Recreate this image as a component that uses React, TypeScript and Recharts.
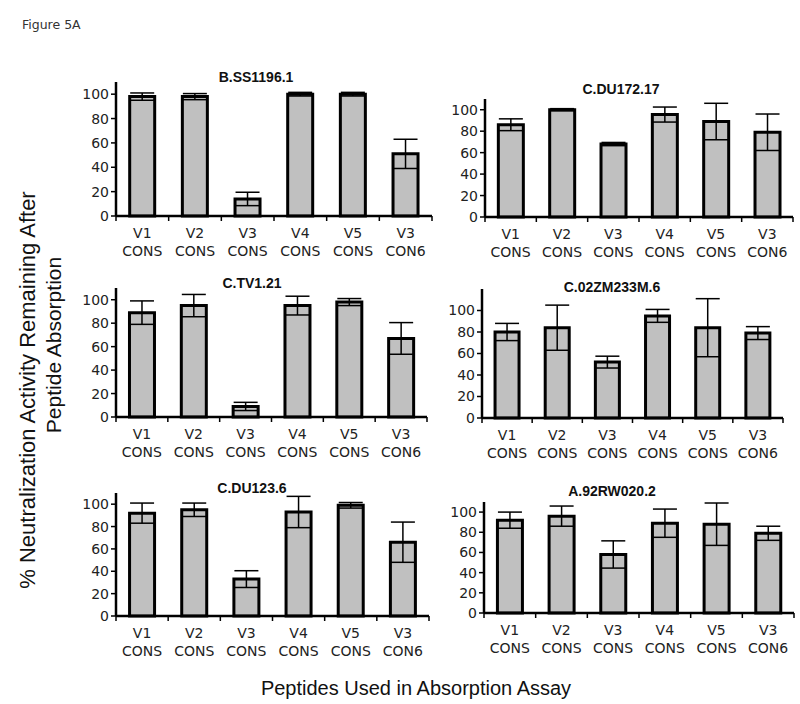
import React from 'react';
import { BarChart, Bar, XAxis, YAxis, ErrorBar } from 'recharts';

// peptide categories (two-line labels, split on the space)
const categories = ['V1 CONS', 'V2 CONS', 'V3 CONS', 'V4 CONS', 'V5 CONS', 'V3 CON6'];
const yTicks = [0, 20, 40, 60, 80, 100];

// % neutralization remaining, mean and error, per virus
const ss1196Values = [98, 98, 14, 100, 100, 51];
const ss1196Errors = [3, 2.5, 5.5, 1.5, 1.5, 12];

const du172Values = [86, 100, 68, 95.5, 89, 79];
const du172Errors = [5.5, 1, 1.5, 7, 17, 17];

const tv121Values = [89, 95, 9, 95, 98, 67];
const tv121Errors = [10, 9.5, 3.5, 8, 3, 13.5];

const zm233Values = [80, 84, 52, 95, 84, 79];
const zm233Errors = [8, 21, 5.5, 6, 27, 6];

const du123Values = [92, 95, 33, 93, 99, 66];
const du123Errors = [9, 6, 7.5, 14, 2.5, 18];

const rw020Values = [92, 96, 58, 89, 88, 79];
const rw020Errors = [8, 10, 13.5, 14, 21, 7];

const FONT = '"DejaVu Sans", Verdana, sans-serif';
const ARIAL = '"Liberation Sans", Arial, sans-serif';
const TEXT = '#222';

// plot rectangles are in page pixels
const panels = [
  { title: 'B.SS1196.1', values: ss1196Values, errors: ss1196Errors, yMax: 110, left: 116, right: 432, top: 82, bottom: 216, titleX: 256, titleY: 77 },
  { title: 'C.DU172.17', values: du172Values, errors: du172Errors, yMax: 110, left: 485, right: 793, top: 99, bottom: 217, titleX: 621, titleY: 89 },
  { title: 'C.TV1.21', values: tv121Values, errors: tv121Errors, yMax: 110, left: 116, right: 427, top: 288, bottom: 417, titleX: 252, titleY: 283 },
  { title: 'C.02ZM233M.6', values: zm233Values, errors: zm233Errors, yMax: 120, left: 482, right: 783, top: 289, bottom: 418, titleX: 612, titleY: 287 },
  { title: 'C.DU123.6', values: du123Values, errors: du123Errors, yMax: 110, left: 116, right: 429, top: 493, bottom: 616, titleX: 252, titleY: 488 },
  { title: 'A.92RW020.2', values: rw020Values, errors: rw020Errors, yMax: 110, left: 484, right: 794, top: 502, bottom: 613, titleX: 612, titleY: 491 },
];

const Y_W = 40;
const PAD_T = 10;
const PAD_R = 10;
const X_H = 45;

function Panel({ p }: { p: (typeof panels)[number] }) {
  const plotW = p.right - p.left;
  const plotH = p.bottom - p.top;
  const width = plotW + Y_W + PAD_R;
  const height = plotH + PAD_T + X_H;
  const axisY = PAD_T + plotH;
  const bw = plotW / categories.length;

  const data = categories.map((c, i) => ({ cat: c, value: p.values[i], err: p.errors[i] }));

  const renderTick = (props: any) => {
    const { x, payload, index } = props;
    const [l1, l2] = String(payload.value).split(' ');
    return (
      <g>
        <line x1={x + bw / 2} x2={x + bw / 2} y1={axisY} y2={axisY + 5} stroke="#000" strokeWidth={1.5} />
        {index === 0 && <line x1={x - bw / 2} x2={x - bw / 2} y1={axisY} y2={axisY + 5} stroke="#000" strokeWidth={1.5} />}
        <text x={x} y={axisY + 22} textAnchor="middle" fontSize={14} fontFamily={FONT} fill={TEXT}>{l1}</text>
        <text x={x} y={axisY + 40} textAnchor="middle" fontSize={14} fontFamily={FONT} fill={TEXT}>{l2}</text>
      </g>
    );
  };

  return (
    <div style={{ position: 'absolute', left: p.left - Y_W, top: p.top - PAD_T, width, height }}>
      <BarChart width={width} height={height} data={data} margin={{ top: PAD_T, right: PAD_R, bottom: 0, left: 0 }} barCategoryGap="26%">
        <XAxis
          dataKey="cat"
          height={X_H}
          interval={0}
          tickLine={false}
          axisLine={{ stroke: '#000', strokeWidth: 2.5 }}
          tick={renderTick}
        />
        <YAxis
          width={Y_W}
          domain={[0, p.yMax]}
          ticks={yTicks}
          interval={0}
          tickSize={5}
          tickMargin={2}
          axisLine={{ stroke: '#000', strokeWidth: 2.5 }}
          tickLine={{ stroke: '#000', strokeWidth: 1.5 }}
          tick={{ fontSize: 14, fontFamily: FONT, fill: TEXT }}
        />
        <Bar dataKey="value" fill="#c0c0c0" stroke="#000" strokeWidth={3} isAnimationActive={false}>
          <ErrorBar dataKey="err" width={12} stroke="#000" strokeWidth={1.5} isAnimationActive={false} />
        </Bar>
      </BarChart>
    </div>
  );
}

export default function App() {
  return (
    <div style={{ position: 'absolute', left: 0, top: 0, width: 800, height: 704, background: '#fff', overflow: 'hidden' }}>
      {panels.map((p) => (
        <Panel key={p.title} p={p} />
      ))}
      <svg width={800} height={704} style={{ position: 'absolute', left: 0, top: 0, pointerEvents: 'none' }}>
        <text x={22} y={29} fontSize={12.5} fontFamily={FONT} fill="#333">Figure 5A</text>
        {panels.map((p) => (
          <text key={p.title} x={p.titleX} y={p.titleY + 5} textAnchor="middle" fontSize={14} fontWeight="bold" fontFamily={ARIAL} fill="#111">
            {p.title}
          </text>
        ))}
        <text transform="translate(35, 390) rotate(-90)" x={0} y={0} textAnchor="middle" fontSize={22} fontFamily={ARIAL} fill="#111">
          % Neutralization Activity Remaining After
        </text>
        <text transform="translate(61, 345) rotate(-90)" x={0} y={0} textAnchor="middle" fontSize={21} fontFamily={ARIAL} fill="#111">
          Peptide Absorption
        </text>
        <text x={416} y={695} textAnchor="middle" fontSize={20} fontFamily={ARIAL} fill="#111">
          Peptides Used in Absorption Assay
        </text>
      </svg>
    </div>
  );
}
